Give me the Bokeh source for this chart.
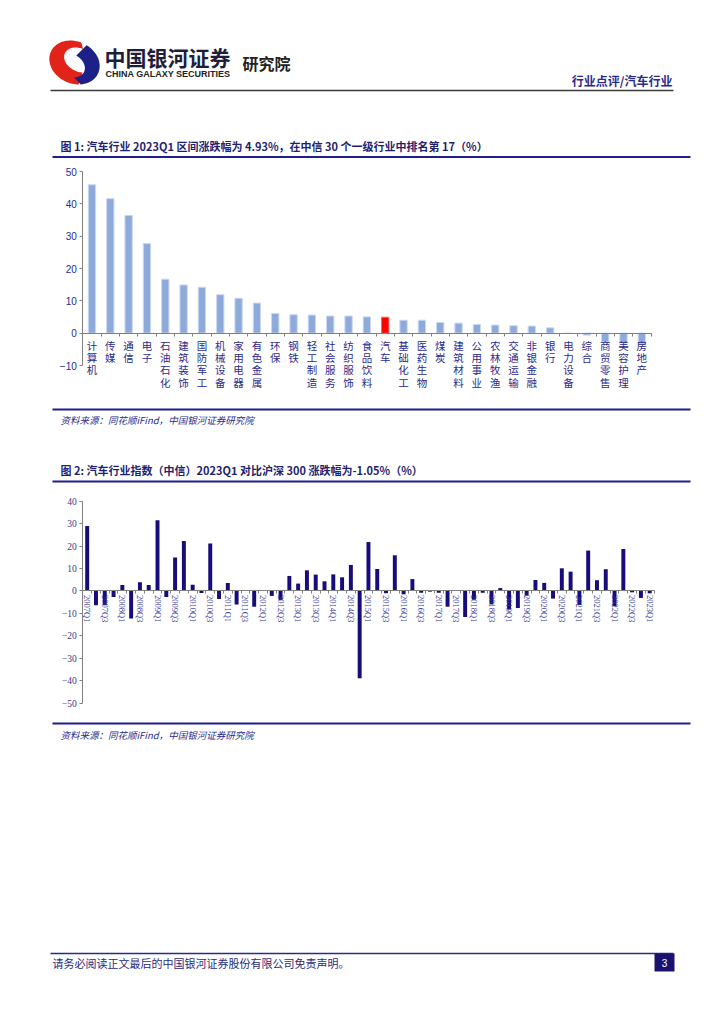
import math
import numpy as np
from bokeh.plotting import figure
from bokeh.layouts import column
from bokeh.models import Range1d, LinearAxis, FixedTicker, ColumnDataSource
from bokeh.core.properties import value
from bokeh.embed import file_html
from bokeh.resources import INLINE

# ---------------- data ----------------
industries = ["计算机", "传媒", "通信", "电子", "石油石化", "建筑装饰", "国防军工", "机械设备",
              "家用电器", "有色金属", "环保", "钢铁", "轻工制造", "社会服务", "纺织服饰", "食品饮料",
              "汽车", "基础化工", "医药生物", "煤炭", "建筑材料", "公用事业", "农林牧渔", "交通运输",
              "非银金融", "银行", "电力设备", "综合", "商贸零售", "美容护理", "房地产"]
industry_change = [45.9, 41.6, 36.4, 27.7, 16.7, 14.9, 14.2, 11.9,
                   10.8, 9.3, 6.1, 5.7, 5.6, 5.3, 5.3, 5.05,
                   4.93, 4.0, 4.0, 3.3, 3.1, 2.7, 2.5, 2.3,
                   2.2, 1.65, -0.1, -0.6, -2.7, -3.0, -3.3]
highlight = "汽车"
y1_ticks = [-10, 0, 10, 20, 30, 40, 50]

quarters = [f"{y}Q{q}" for y in range(2007, 2024) for q in range(1, 5)][:65]
excess_change = [29.0, -6.4, -6.4, -2.7,
                 2.7, -12.3, 3.9, 2.7,
                 31.5, -2.7, 14.9, 22.3,
                 2.8, -0.9, 21.2, -3.6,
                 3.6, -6.0, 0.3, -7.0,
                 0.4, -2.2, -4.0, 6.7,
                 3.3, 9.2, 7.3, 4.3,
                 7.4, 6.1, 11.6, -38.9,
                 21.8, 9.8, -1.0, 15.9,
                 -1.5, 5.3, -0.8, -0.3,
                 -0.8, -7.0, 0.1, -11.6,
                 -3.9, -0.8, -6.0, 1.3,
                 -8.3, -7.6, -2.1, 4.9,
                 3.6, -3.4, 10.1, 8.6,
                 -6.2, 18.0, 4.8, 9.7,
                 -6.8, 18.7, -0.6, -3.1,
                 -1.05]
y2_ticks = [40, 30, 20, 10, 0, -10, -20, -30, -40, -50]

title1 = "图 1:  汽车行业 2023Q1 区间涨跌幅为 4.93%，在中信 30 个一级行业中排名第 17（%）"
title2 = "图 2:  汽车行业指数（中信）2023Q1 对比沪深 300 涨跌幅为-1.05%（%）"
source_txt = "资料来源：同花顺iFind，中国银河证券研究院"
footer_txt = "请务必阅读正文最后的中国银河证券股份有限公司免责声明。"
header_right = "行业点评/汽车行业"

# ---------------- styles / layout ----------------
W = 708
CJK = "Noto Sans CJK SC"
NAVY = "#1F1F8C"
TXT_NAVY = "#2B2A8C"
TITLE_C = "#1F1F6F"
BAR1 = "#8EAADB"
BAR1_EDGE = "#CBD8F0"
BAR2 = "#170C7A"
AXIS_GRAY = "#808080"


def deco(h):
    p = figure(width=W, height=h, x_range=Range1d(0, W), y_range=Range1d(h, 0),
               min_border=0, min_border_left=0, min_border_right=0, min_border_top=0,
               min_border_bottom=0, toolbar_location=None, output_backend="svg",
               x_axis_type=None, y_axis_type=None, outline_line_color=None)
    p.background_fill_color = "white"
    p.border_fill_color = "white"
    return p


def txt(p, x, y, s, size, color, bold=False, italic=False, align="left", font=CJK):
    style = "bold" if bold else ("italic" if italic else "normal")
    p.text(x=[x], y=[y], text=[s], text_font=value(font), text_font_size=size,
           text_font_style=style, text_color=color, text_align=align, text_baseline="middle")


def hline(p, x0, x1, y, color, w):
    p.segment(x0=[x0], y0=[y], x1=[x1], y1=[y], line_color=color, line_width=w)


def chart_fig(h, n, ax_left, ax_right, y_top_val, y_top_px, y_bot_val, y_bot_px):
    s = (ax_right - ax_left) / n
    xs = -0.5 - ax_left / s
    ppu = (y_bot_px - y_top_px) / (y_top_val - y_bot_val)
    ye = y_top_val + y_top_px / ppu
    ys = y_bot_val - (h - y_bot_px) / ppu
    p = figure(width=W, height=h, x_range=Range1d(xs, xs + W / s), y_range=Range1d(ys, ye),
               min_border=0, min_border_left=0, min_border_right=0, min_border_top=0,
               min_border_bottom=0, toolbar_location=None, output_backend="svg",
               x_axis_type=None, y_axis_type=None, outline_line_color=None)
    p.background_fill_color = "white"
    p.border_fill_color = "white"
    return p


# ---------------- top (page y 0..163) ----------------
top = deco(163)
cx, cy = 74, 62
rot = math.radians(-25)


def ell(theta, sx, sy, ox, oy, rx=26.0, ry=21.0):
    t = np.radians(theta)
    x = rx * sx * np.cos(t)
    y = ry * sy * np.sin(t)
    xr = x * math.cos(rot) - y * math.sin(rot) + ox
    yr = x * math.sin(rot) + y * math.cos(rot) + oy
    return cx + xr, cy - yr


a = np.linspace(95, 300, 60)
ox1, oy1 = ell(a, 1, 1, 0, 0)
ix1, iy1 = ell(a[::-1], 0.62, 0.55, 5, 2.5)
top.patch(x=np.concatenate([ox1, ix1]), y=np.concatenate([oy1, iy1]), fill_color="#E2231A", line_color=None)
b = np.linspace(-55, 82, 60)
ox2, oy2 = ell(b, 1, 1, 0, 0)
ix2, iy2 = ell(b[::-1], 0.62, 0.55, -5, -2.5)
top.patch(x=np.concatenate([ox2, ix2]), y=np.concatenate([oy2, iy2]), fill_color="#1D2088", line_color=None)

txt(top, 104, 56, "中国银河证券", "21px", "#1E1E3C", bold=True)
txt(top, 105, 73.5, "CHINA GALAXY SECURITIES", "9px", "#222222", bold=True, font="Liberation Sans")
txt(top, 242, 62, "研究院", "16px", "#222222", bold=True)
txt(top, 672, 80, header_right, "12px", TXT_NAVY, bold=True, align="right")
hline(top, 50, 673, 90, "#3A3A3A", 1.5)
txt(top, 60, 145, title1, "11px", TITLE_C, bold=True)
hline(top, 52, 690, 156.5, NAVY, 2.2)

# ---------------- chart 1 (page y 163..400) ----------------
n1 = len(industries)
c1 = chart_fig(237, n1, 82.3, 650.5, 50, 171 - 163, -10, 365 - 163)
src1 = ColumnDataSource(dict(
    x=list(range(n1)), top=industry_change,
    color=["#FF0000" if n == highlight else BAR1 for n in industries],
    edge=["#FF6060" if n == highlight else BAR1_EDGE for n in industries]))
c1.vbar(x="x", top="top", bottom=0, width=0.4, fill_color="color", line_color="edge", line_width=1, source=src1)

ya1 = LinearAxis(fixed_location=-0.5, ticker=FixedTicker(ticks=y1_ticks), bounds=(-10, 50),
                 axis_line_color=AXIS_GRAY, major_tick_line_color=AXIS_GRAY,
                 major_tick_out=3, major_tick_in=0, minor_tick_line_color=None,
                 major_label_text_font="Liberation Sans", major_label_text_font_size="10px",
                 major_label_text_color=TXT_NAVY, major_label_standoff=3,
                 major_label_overrides={t: ("−" + str(-t) if t < 0 else str(t)) for t in y1_ticks})
c1.add_layout(ya1, "left")
xb1 = LinearAxis(fixed_location=0, ticker=FixedTicker(ticks=[i - 0.5 for i in range(n1 + 1)]),
                 bounds=(-0.5, n1 - 0.5), axis_line_color=AXIS_GRAY,
                 major_tick_line_color=AXIS_GRAY, major_tick_out=3, major_tick_in=0,
                 minor_tick_line_color=None, major_label_text_alpha=0, major_label_text_font_size="1px")
c1.add_layout(xb1, "below")
xl1 = LinearAxis(fixed_location=0, ticker=FixedTicker(ticks=list(range(n1))),
                 axis_line_color=None, major_tick_line_color=None, minor_tick_line_color=None,
                 major_tick_out=0, major_tick_in=0, major_label_standoff=5,
                 major_label_text_font=CJK, major_label_text_font_size="10.5px",
                 major_label_text_color=TXT_NAVY, major_label_text_line_height=0.81,
                 major_label_overrides={i: "\n".join(n) for i, n in enumerate(industries)})
c1.add_layout(xl1, "below")

# ---------------- middle (page y 400..492) ----------------
mid = deco(92)
hline(mid, 52, 690, 9, NAVY, 2.2)
txt(mid, 60, 19, source_txt, "9.5px", TXT_NAVY, italic=True)
txt(mid, 60, 69, title2, "11px", TITLE_C, bold=True)
hline(mid, 52, 690, 81, NAVY, 2.2)

# ---------------- chart 2 (page y 492..712) ----------------
n2 = len(quarters)
c2 = chart_fig(220, n2, 82.3, 653.6, 40, 500.7 - 492, -50, 702.7 - 492)
src2 = ColumnDataSource(dict(x=list(range(n2)), top=excess_change))
c2.vbar(x="x", top="top", bottom=0, width=0.45, fill_color=BAR2, line_color=None, source=src2)

ya2 = LinearAxis(fixed_location=-0.5, ticker=FixedTicker(ticks=y2_ticks), bounds=(-50, 40),
                 axis_line_color=AXIS_GRAY,
                 major_tick_line_color=AXIS_GRAY, major_tick_out=3, major_tick_in=0,
                 minor_tick_line_color=None, major_label_text_font="Liberation Serif",
                 major_label_text_font_size="9.5px", major_label_text_color="#3A3A8A",
                 major_label_standoff=3,
                 major_label_overrides={t: ("−" + str(-t) if t < 0 else str(t)) for t in y2_ticks})
c2.add_layout(ya2, "left")
xb2 = LinearAxis(fixed_location=0, ticker=FixedTicker(ticks=[i - 0.5 for i in range(n2 + 1)]),
                 bounds=(-0.5, n2 - 0.5), axis_line_color=AXIS_GRAY,
                 major_tick_line_color=AXIS_GRAY, major_tick_out=3, major_tick_in=0,
                 minor_tick_line_color=None, major_label_text_alpha=0, major_label_text_font_size="1px")
c2.add_layout(xb2, "below")
lab_idx = [i for i, q in enumerate(quarters) if q.endswith("Q1") or q.endswith("Q3")]
xl2 = LinearAxis(fixed_location=0, ticker=FixedTicker(ticks=lab_idx),
                 axis_line_color=None, major_tick_line_color=None, minor_tick_line_color=None,
                 major_tick_out=0, major_tick_in=0, major_label_standoff=4,
                 major_label_orientation=-math.pi / 2,
                 major_label_text_font="Liberation Serif", major_label_text_font_size="8.5px",
                 major_label_text_color="#3A3A9A",
                 major_label_overrides={i: quarters[i] for i in lab_idx})
c2.add_layout(xl2, "below")

# ---------------- bottom (page y 712..1000) ----------------
bot = deco(288)
hline(bot, 52, 690, 11, NAVY, 2.2)
txt(bot, 60, 22, source_txt, "9.5px", TXT_NAVY, italic=True)
hline(bot, 50, 673, 241, "#2A2A8A", 1.5)
txt(bot, 52, 250, footer_txt, "11px", "#2A2A7A")
bot.quad(left=[654], right=[674], top=[241], bottom=[259], fill_color="#1B1270", line_color=None)
txt(bot, 664, 250, "3", "10px", "white", align="center", font="Liberation Sans")

layout = column(top, c1, mid, c2, bot, spacing=0)
open("out.html", "w").write(file_html(layout, INLINE))
